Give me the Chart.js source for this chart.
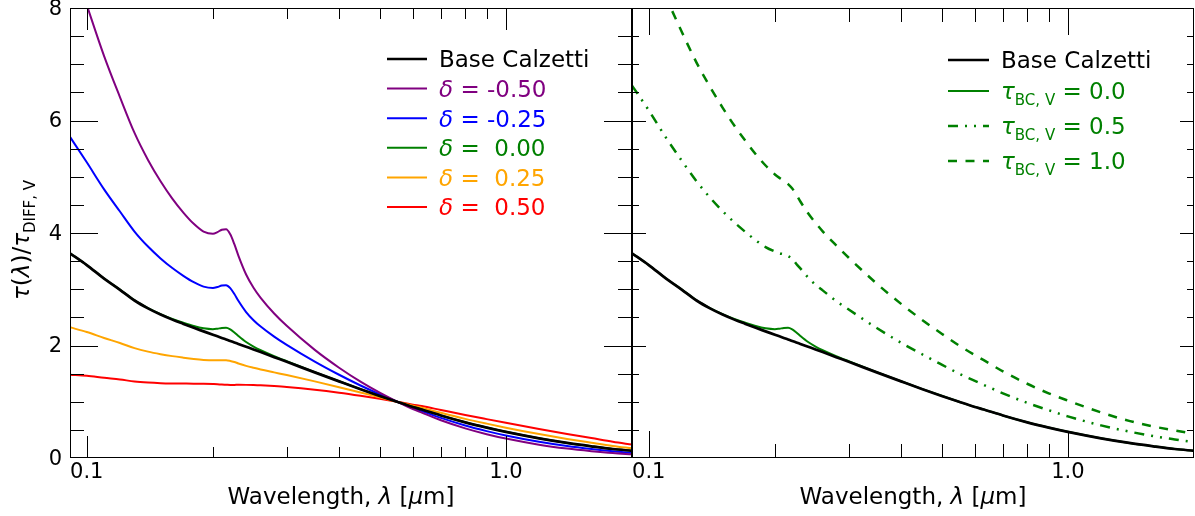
<!DOCTYPE html>
<html>
<head>
<meta charset="utf-8">
<script src="https://cdn.jsdelivr.net/npm/chart.js@4.4.1/dist/chart.umd.min.js"></script>
<style>
    html, body { margin: 0; padding: 0; background: #fff; }
    #wrap { position: relative; width: 1195px; height: 516px; overflow: hidden; }
    .pane { position: absolute; top: 0; height: 516px; }
    #leftPane { left: 0; width: 640px; }
    #rightPane { left: 624px; width: 571px; }
</style>
</head>
<body>
<div id="wrap">
    <div class="pane" id="leftPane"><canvas id="leftChart"></canvas></div>
    <div class="pane" id="rightPane"><canvas id="rightChart"></canvas></div>
</div>
<script>
// wavelength grid in micron
var wavelength = [0.0912, 0.1, 0.11, 0.12, 0.13, 0.14, 0.15, 0.16, 0.17, 0.18, 0.19, 0.2, 0.205, 0.21, 0.215,
    0.22, 0.225, 0.23, 0.24, 0.25, 0.26, 0.28, 0.3, 0.35, 0.4, 0.45, 0.5, 0.55, 0.6, 0.63, 0.7, 0.8, 0.9,
    1.0, 1.2, 1.4, 1.6, 1.8, 2.0];

var baseCalzetti = [3.64, 3.43, 3.19, 2.99, 2.80, 2.66, 2.55, 2.46, 2.384, 2.314, 2.251, 2.191, 2.163, 2.135, 2.108,
    2.080, 2.054, 2.028, 1.978, 1.930, 1.883, 1.793, 1.710, 1.522, 1.362, 1.223, 1.104, 1.000, 0.908, 0.862, 0.756,
    0.634, 0.540, 0.464, 0.350, 0.268, 0.208, 0.160, 0.128];

var deltaM050 = [8.946, 8.053, 7.145, 6.416, 5.779, 5.299, 4.920, 4.612, 4.363, 4.163, 4.026, 3.986, 4.015, 4.059, 4.068,
    3.977, 3.801, 3.599, 3.263, 3.027, 2.847, 2.569, 2.350, 1.922, 1.605, 1.357, 1.161, 1.003, 0.871, 0.807, 0.671,
    0.527, 0.423, 0.345, 0.237, 0.168, 0.122, 0.088, 0.066];

var deltaM025 = [5.708, 5.257, 4.776, 4.382, 4.026, 3.759, 3.548, 3.377, 3.239, 3.125, 3.047, 3.023, 3.040, 3.066, 3.072,
    3.019, 2.915, 2.796, 2.595, 2.450, 2.337, 2.158, 2.012, 1.714, 1.480, 1.289, 1.133, 1.002, 0.890, 0.834, 0.713,
    0.578, 0.478, 0.400, 0.288, 0.212, 0.159, 0.119, 0.090];

var delta000 = [3.641, 3.432, 3.192, 2.993, 2.805, 2.666, 2.559, 2.473, 2.404, 2.346, 2.306, 2.291, 2.299, 2.311, 2.314,
    2.286, 2.232, 2.170, 2.062, 1.982, 1.918, 1.812, 1.722, 1.527, 1.365, 1.225, 1.106, 1.001, 0.909, 0.863, 0.757,
    0.635, 0.541, 0.465, 0.350, 0.268, 0.208, 0.160, 0.128];

var deltaP025 = [2.323, 2.240, 2.134, 2.045, 1.954, 1.891, 1.846, 1.811, 1.784, 1.761, 1.744, 1.736, 1.737, 1.740, 1.739,
    1.726, 1.706, 1.681, 1.638, 1.604, 1.574, 1.522, 1.474, 1.362, 1.259, 1.164, 1.079, 1.001, 0.928, 0.892, 0.803,
    0.696, 0.611, 0.539, 0.425, 0.339, 0.272, 0.215, 0.172];

var deltaP050 = [1.482, 1.462, 1.426, 1.396, 1.361, 1.342, 1.331, 1.326, 1.324, 1.322, 1.319, 1.314, 1.311, 1.306, 1.303,
    1.300, 1.300, 1.301, 1.300, 1.297, 1.292, 1.278, 1.262, 1.214, 1.161, 1.106, 1.052, 1.000, 0.948, 0.923, 0.853,
    0.765, 0.691, 0.626, 0.517, 0.428, 0.355, 0.289, 0.238];

// right panel: tau_BC,V = 0.0 is the same curve as delta = 0.00
var tauBc00 = delta000;

var tauBc05 = [6.62, 6.18, 5.69, 5.28, 4.92, 4.63, 4.39, 4.19, 4.02, 3.87, 3.75, 3.67, 3.64, 3.62, 3.59,
    3.54, 3.45, 3.37, 3.21, 3.08, 2.98, 2.79, 2.64, 2.31, 2.05, 1.84, 1.66, 1.50, 1.37, 1.30, 1.15,
    0.98, 0.85, 0.74, 0.58, 0.47, 0.39, 0.33, 0.28];

var tauBc10 = [9.67, 8.93, 8.19, 7.57, 7.03, 6.60, 6.23, 5.91, 5.64, 5.40, 5.20, 5.04, 4.98, 4.93, 4.87,
    4.79, 4.68, 4.56, 4.35, 4.18, 4.03, 3.78, 3.56, 3.10, 2.74, 2.45, 2.21, 2.00, 1.83, 1.74, 1.54,
    1.32, 1.15, 1.02, 0.81, 0.66, 0.56, 0.49, 0.43];

var leftLabels = ["Base Calzetti", "δ = -0.50", "δ = -0.25", "δ =  0.00", "δ =  0.25", "δ =  0.50"];
var rightLabels = ["Base Calzetti", "τ_{BC, V} = 0.0", "τ_{BC, V} = 0.5", "τ_{BC, V} = 1.0"];

var xTickValues = [0.1, 0.2, 0.3, 0.4, 0.5, 0.6, 0.7, 0.8, 0.9, 1, 2];
var xMajorTicks = [0.1, 1];
var xTickLabels = ["0.1", "1.0"];
var yTickValues = [0, 0.5, 1, 1.5, 2, 2.5, 3, 3.5, 4, 4.5, 5, 5.5, 6, 6.5, 7, 7.5, 8];
var yMajorTicks = [0, 2, 4, 6, 8];

var FONT = '"DejaVu Sans", sans-serif';

Chart.defaults.font.family = FONT;
Chart.defaults.font.size = 21;
Chart.defaults.color = '#000';
Chart.defaults.animation = false;

function series(values) {
    return wavelength.map(function (w, i) { return { x: w, y: values[i] }; });
}

function lineSet(label, values, color, width, dash) {
    return {
        label: label,
        data: series(values),
        borderColor: color,
        borderWidth: width,
        borderDash: dash || [],
        borderCapStyle: 'butt',
        pointRadius: 0,
        fill: false,
        cubicInterpolationMode: 'monotone'
    };
}

// text made of pieces: italic greek letters, subscripts
function labelParts(label, size) {
    var m = /^([δτ])(?:_\{([^}]*)\})?(.*)$/.exec(label);
    if (!m) return [{ text: label, size: size }];
    var parts = [{ text: m[1], size: size, italic: true }];
    if (m[2]) parts.push({ text: m[2], size: Math.round(size * 0.64), dy: 6 });
    parts.push({ text: m[3], size: size });
    return parts;
}

function partFont(p) {
    return (p.italic ? 'italic ' : '') + p.size + 'px ' + FONT;
}

function partsWidth(ctx, parts) {
    var w = 0;
    parts.forEach(function (p) { ctx.font = partFont(p); w += ctx.measureText(p.text).width; });
    return w;
}

function drawParts(ctx, parts, x, y, color) {
    ctx.fillStyle = color;
    ctx.textBaseline = 'alphabetic';
    ctx.textAlign = 'left';
    parts.forEach(function (p) {
        ctx.font = partFont(p);
        ctx.fillText(p.text, x, y + (p.dy || 0));
        x += ctx.measureText(p.text).width;
    });
}

var xTitleParts = [
    { text: 'Wavelength, ', size: 23 }, { text: 'λ', size: 23, italic: true },
    { text: ' [', size: 23 }, { text: 'μ', size: 23, italic: true }, { text: 'm]', size: 23 }
];
var yTitleParts = [
    { text: 'τ', size: 23, italic: true }, { text: '(', size: 23 }, { text: 'λ', size: 23, italic: true },
    { text: ')/', size: 23 }, { text: 'τ', size: 23, italic: true }, { text: 'DIFF, V', size: 15, dy: 6 }
];

var inwardTicks = {
    id: 'inwardTicks',
    afterDatasetsDraw: function (chart, args, opts) {
        var ctx = chart.ctx, a = chart.chartArea;
        var xs = chart.scales.x, ys = chart.scales.y;
        ctx.save();
        ctx.strokeStyle = '#000';
        ctx.lineWidth = 1;
        ctx.beginPath();
        xTickValues.forEach(function (v) {
            var px = Math.round(xs.getPixelForValue(v)) + 0.5;
            px = Math.min(Math.max(px, a.left + 0.5), a.right - 0.5);
            var len = xMajorTicks.indexOf(v) >= 0 ? opts.xMajor : opts.xMinor;
            ctx.moveTo(px, a.bottom); ctx.lineTo(px, a.bottom - len);
            ctx.moveTo(px, a.top); ctx.lineTo(px, a.top + len);
        });
        yTickValues.forEach(function (v) {
            var py = Math.round(ys.getPixelForValue(v)) + 0.5;
            py = Math.min(Math.max(py, a.top + 0.5), a.bottom - 0.5);
            var len = yMajorTicks.indexOf(v) >= 0 ? opts.yMajor : opts.yMinor;
            ctx.moveTo(a.left, py); ctx.lineTo(a.left + len, py);
            ctx.moveTo(a.right, py); ctx.lineTo(a.right - len, py);
        });
        ctx.stroke();
        ctx.strokeRect(a.left + 0.5, a.top + 0.5, a.right - a.left - 1, a.bottom - a.top - 1);
        ctx.restore();
    }
};

var richText = {
    id: 'richText',
    afterDraw: function (chart, args, opts) {
        var ctx = chart.ctx;
        ctx.save();
        // x axis title
        var w = partsWidth(ctx, xTitleParts);
        drawParts(ctx, xTitleParts, opts.xTitleCenter - w / 2, opts.xTitleBaseline, '#000');
        // y axis title, rotated
        if (opts.yTitle) {
            var wy = partsWidth(ctx, yTitleParts);
            ctx.translate(opts.yTitle.x, opts.yTitle.y);
            ctx.rotate(-Math.PI / 2);
            drawParts(ctx, yTitleParts, -wy / 2, 0, '#000');
            ctx.setTransform(1, 0, 0, 1, 0, 0);
        }
        // legend inside the plot
        var leg = opts.legend;
        chart.data.datasets.forEach(function (ds, i) {
            var y = leg.rows[i];
            ctx.beginPath();
            ctx.strokeStyle = ds.borderColor;
            ctx.lineWidth = ds.borderWidth;
            ctx.setLineDash(ds.borderDash || []);
            ctx.moveTo(leg.lineX, y);
            ctx.lineTo(leg.lineX + leg.lineLen, y);
            ctx.stroke();
            ctx.setLineDash([]);
            drawParts(ctx, labelParts(ds.label, 23), leg.textX, y + 8.4, ds.borderColor);
        });
        ctx.restore();
    }
};

function scaleOptions(yWidth, showYLabels) {
    return {
        x: {
            type: 'logarithmic',
            min: 0.0912,
            max: 2.0,
            grid: { display: false, drawTicks: false },
            border: { display: false },
            afterBuildTicks: function (axis) {
                axis.ticks = xTickValues.map(function (v) {
                    return { value: v, major: xMajorTicks.indexOf(v) >= 0 };
                });
            },
            afterFit: function (axis) {
                axis.height = 58;
                axis.paddingLeft = 0;
                axis.paddingRight = 0;
            },
            ticks: {
                autoSkip: false,
                maxRotation: 0,
                minRotation: 0,
                padding: 2,
                font: { size: 21 },
                callback: function (value) {
                    var i = xMajorTicks.indexOf(value);
                    return i >= 0 ? xTickLabels[i] : '';
                }
            }
        },
        y: {
            min: 0,
            max: 8,
            grid: { display: false, drawTicks: false },
            border: { display: false },
            afterFit: function (axis) {
                axis.width = yWidth;
                axis.paddingTop = 0;
                axis.paddingBottom = 0;
            },
            ticks: {
                display: showYLabels,
                stepSize: 2,
                padding: 8,
                labelOffset: 1.5,
                font: { size: 21 },
                callback: function (value) { return String(value); }
            }
        }
    };
}

var leftChart = new Chart(document.getElementById('leftChart'), {
    type: 'line',
    data: {
        datasets: [
            lineSet(leftLabels[0], baseCalzetti, '#000000', 2.7),
            lineSet(leftLabels[1], deltaM050, '#800080', 2),
            lineSet(leftLabels[2], deltaM025, '#0000ff', 2),
            lineSet(leftLabels[3], delta000, '#008000', 2),
            lineSet(leftLabels[4], deltaP025, '#ffa500', 2),
            lineSet(leftLabels[5], deltaP050, '#ff0000', 2)
        ]
    },
    options: {
        responsive: true,
        maintainAspectRatio: false,
        layout: { padding: { top: 8, right: 8, left: 0, bottom: 0 } },
        scales: scaleOptions(70, true),
        plugins: {
            legend: { display: false },
            tooltip: { enabled: false },
            inwardTicks: { xMajor: 22, xMinor: 11, yMajor: 28, yMinor: 14 },
            richText: {
                xTitleCenter: 341,
                xTitleBaseline: 504,
                yTitle: { x: 29, y: 240 },
                legend: { lineX: 387, lineLen: 40, textX: 439, rows: [59, 88.6, 118.2, 147.8, 177.4, 207] }
            }
        }
    },
    plugins: [inwardTicks, richText]
});

var rightChart = new Chart(document.getElementById('rightChart'), {
    type: 'line',
    data: {
        datasets: [
            lineSet(rightLabels[0], baseCalzetti, '#000000', 2.7),
            lineSet(rightLabels[1], tauBc00, '#008000', 2),
            lineSet(rightLabels[2], tauBc05, '#008000', 2.5, [10, 7, 2, 7, 2, 7]),
            lineSet(rightLabels[3], tauBc10, '#008000', 2.5, [9, 8.5])
        ]
    },
    options: {
        responsive: true,
        maintainAspectRatio: false,
        layout: { padding: { top: 8, right: 1, left: 0, bottom: 0 } },
        scales: scaleOptions(8, false),
        plugins: {
            legend: { display: false },
            tooltip: { enabled: false },
            inwardTicks: { xMajor: 27, xMinor: 14, yMajor: 14, yMinor: 7 },
            richText: {
                xTitleCenter: 289,
                xTitleBaseline: 504,
                yTitle: null,
                legend: { lineX: 324, lineLen: 41, textX: 377, rows: [60, 91, 126, 161] }
            }
        }
    },
    plugins: [inwardTicks, richText]
});
</script>
</body>
</html>
